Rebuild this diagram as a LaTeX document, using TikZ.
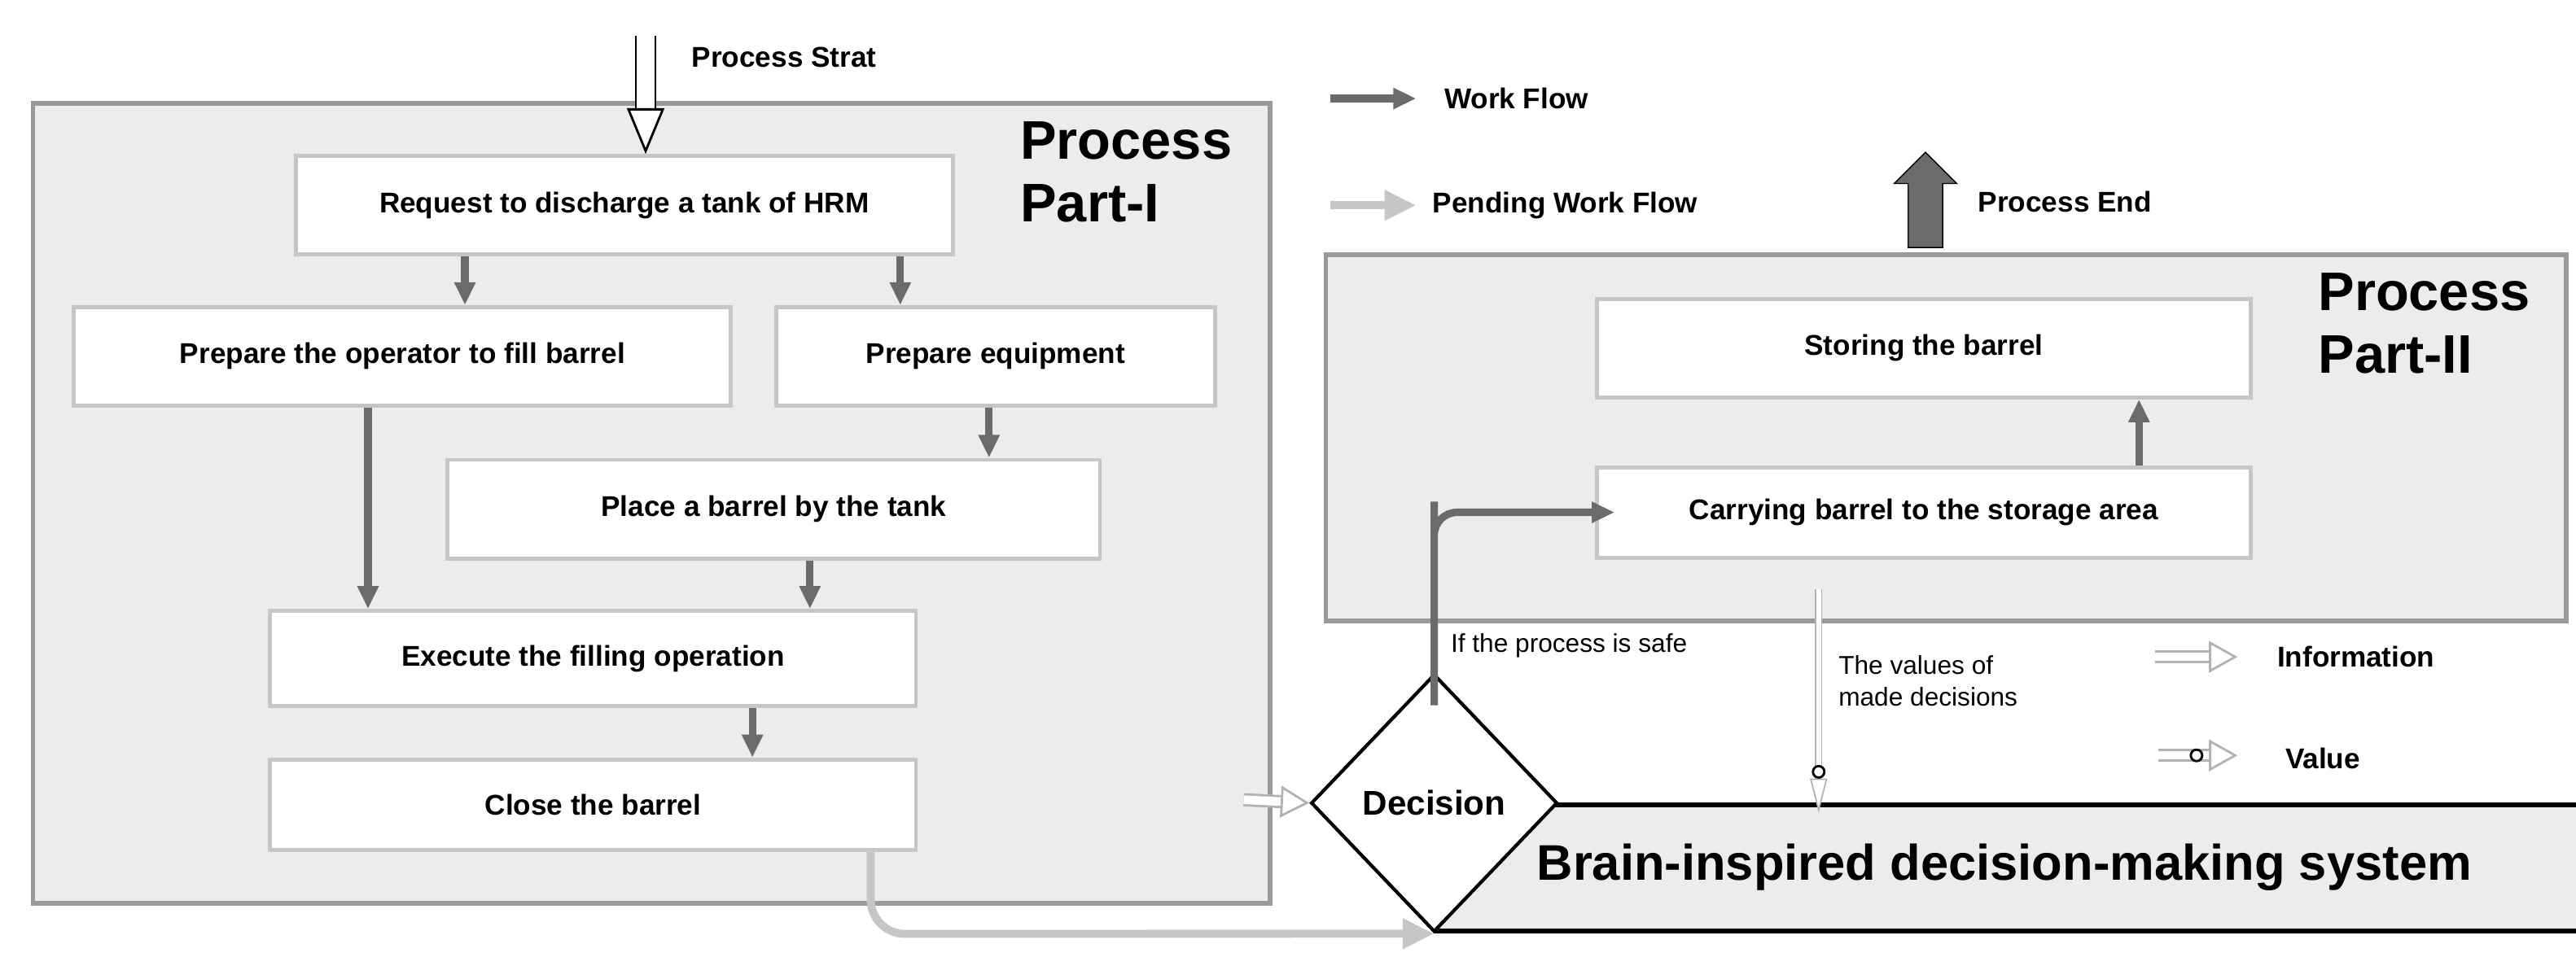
\documentclass[tikz,border=0pt]{standalone}
\usepackage{fontspec}
\setmainfont{Liberation Sans}
\usetikzlibrary{shapes.geometric, shapes.arrows, arrows.meta, positioning}

\begin{document}
\begin{tikzpicture}[x=0.2018mm, y=-0.2018mm,
    panel/.style={draw=gray!80, line width=1.6pt, fill=gray!15},
    block/.style={draw=gray!45, line width=1.4pt, fill=white, font=\bfseries\fontsize{10}{12}\selectfont, inner sep=0},
    biglabel/.style={font=\bfseries\fontsize{19}{22}\selectfont, align=left},
    legend/.style={font=\bfseries\fontsize{10}{12}\selectfont, anchor=west},
    flow/.style={draw=black!58, line width=2.6pt, -{Triangle[length=8pt,width=7pt]}},
    pending/.style={draw=gray!45, line width=2.8pt, -{Triangle[length=11pt,width=10pt]}},
    info/.style={draw=gray!60, double=white, line width=0.8pt, double distance=3pt, -{Triangle[open,length=10pt,width=11pt,fill=white]}}]

    \useasboundingbox (0,0) rectangle (1568,588);

    % part I
    \draw [panel] (20,63) rectangle (773,550);
    \node [biglabel, anchor=north west] (lab1) at (615,68) {Process\\Part-I};
    \node [block, minimum width=400*0.2018mm, minimum height=60*0.2018mm] (request) at (380,125) {Request to discharge a tank of HRM};
    \node [block, minimum width=400*0.2018mm, minimum height=60*0.2018mm] (operator) at (245,217) {Prepare the operator to fill barrel};
    \node [block, minimum width=267*0.2018mm, minimum height=60*0.2018mm] (equip) at (606,217) {Prepare equipment};
    \node [block, minimum width=397*0.2018mm, minimum height=60*0.2018mm] (place) at (471,310) {Place a barrel by the tank};
    \node [block, minimum width=393*0.2018mm, minimum height=58*0.2018mm] (execute) at (361,401) {Execute the filling operation};
    \node [block, minimum width=393*0.2018mm, minimum height=55*0.2018mm] (close) at (361,490) {Close the barrel};

    % part II
    \draw [panel] (807,155) rectangle (1562,378);
    \node [biglabel, anchor=north west] (lab2) at (1405,160) {Process\\Part-II};
    \node [block, minimum width=398*0.2018mm, minimum height=60*0.2018mm] (store) at (1171,212) {Storing the barrel};
    \node [block, minimum width=398*0.2018mm, minimum height=55*0.2018mm] (carry) at (1171,312) {Carrying barrel to the storage area};

    % decision system
    \fill [gray!15] (873,491) rectangle (1580,566);
    \draw [black, line width=1.6pt] (873,490) -- (1580,490) (873,567) -- (1580,567);
    \node [font=\bfseries\fontsize{17.5}{20}\selectfont] (brain) at (1220,528) {Brain-inspired decision-making system};
    \node [diamond, draw, fill=white, line width=1.2pt, inner sep=0, minimum width=150*0.2018mm, minimum height=157*0.2018mm, font=\bfseries\fontsize{12}{14}\selectfont] (decision) at (873,489) {Decision};

    % start / end
    \coordinate (start) at (393,22);
    \node [legend] (starttxt) at (415,35) {Process Strat};
    \draw [draw=black, double=white, line width=0.8pt, double distance=6pt, -{Triangle[open,length=16pt,width=13pt,fill=white]}] (start) -- (request.north -| start);
    \node [single arrow, draw=black, fill=black!58, rotate=90, minimum height=58*0.2018mm, minimum width=38*0.2018mm, single arrow head extend=3pt, inner sep=3.5pt] (endarrow) at (1172,127) {};
    \node [legend] (endtxt) at (1198,123) {Process End};

    % work flow
    \draw [flow] ([xshift=-97*0.2018mm]request.south) -- ([xshift=-97*0.2018mm]request.south |- operator.north);
    \draw [flow] ([xshift=168*0.2018mm]request.south) -- ([xshift=168*0.2018mm]request.south |- equip.north);
    \draw [flow] ([xshift=-4*0.2018mm]equip.south) -- ([xshift=-4*0.2018mm]equip.south |- place.north);
    \draw [flow] ([xshift=-21*0.2018mm]operator.south) -- ([xshift=-21*0.2018mm]operator.south |- execute.north);
    \draw [flow] ([xshift=22*0.2018mm]place.south) -- ([xshift=22*0.2018mm]place.south |- execute.north);
    \draw [flow] ([xshift=97*0.2018mm]execute.south) -- ([xshift=97*0.2018mm]execute.south |- close.north);
    \draw [flow] ([yshift=-20*0.2018mm]decision.north) -- ++(0,-95) [rounded corners=8pt] -- ++(0,-15) |- ([xshift=12*0.2018mm]carry.west);
    \draw [flow] ([xshift=131*0.2018mm]carry.north) -- ([xshift=131*0.2018mm]carry.north |- store.south);
    \draw [pending, rounded corners=12pt] ([xshift=169*0.2018mm]close.south) -- ++(0,50) -- (decision.south);

    % information
    \draw [info] (757,487) -- (decision.west);
    \draw [draw=gray!60, double=white, line width=0.5pt, double distance=1.6pt, -{Triangle[open,length=12pt,width=6pt,fill=white]}] (carry.south -| 1107,0) ++(0,18) coordinate (vstart) -- (1107,495) coordinate (vend);
    \draw [fill=white, line width=0.8pt] (1107,470) circle (2pt);
    \node [font=\fontsize{9}{11}\selectfont, anchor=west] (safe) at (877,393) {If the process is safe};
    \node [font=\fontsize{9}{11}\selectfont, anchor=north west, align=left] (valtxt) at (1113,393) {The values of\\made decisions};

    % legend
    \draw [flow] (810,60) -- (862,60);
    \node [legend] (wf) at (873,60) {Work Flow};
    \draw [pending] (810,125) -- (862,125);
    \node [legend] (pwf) at (866,125) {Pending Work Flow};
    \draw [info] (1312,400) -- (1362,400);
    \node [legend] (infotxt) at (1380,400) {Information};
    \draw [info] (1314,460) -- (1362,460);
    \draw [fill=white, line width=0.8pt] (1337,460) circle (2pt);
    \node [legend] (valuetxt) at (1385,462) {Value};
\end{tikzpicture}
\end{document}
